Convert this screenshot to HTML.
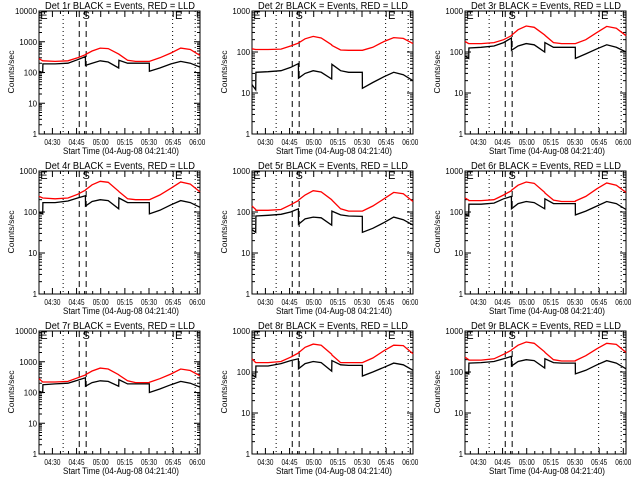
<!DOCTYPE html>
<html><head><meta charset="utf-8"><style>
html,body{margin:0;padding:0;background:#fff;}
svg{display:block;font-family:"Liberation Sans",sans-serif;}
</style></head><body>
<svg id="chart" width="640" height="480" viewBox="0 0 640 480"></svg>
<script>
const times = [0,2.3,2.4,10,18,24,28.8,28.9,33,38,43,49.5,49.6,55,60,68.5,68.6,75,82,88,94,100];
const detectorNames = ["Det 1r","Det 2r","Det 3r","Det 4r","Det 5r","Det 6r","Det 7r","Det 8r","Det 9r"];
const yDecades = [4,3,3,3,3,3,4,3,3];
const red1 = [280,240,240,230,240,300,380,385,500,620,600,400,395,250,230,230,230,300,430,620,560,360];
const black1 = [110,100,190,190,200,260,330,170,200,240,220,140,250,200,200,200,110,140,190,230,200,150];
const red2 = [120,115,115,115,118,140,165,167,210,240,220,150,145,112,110,110,110,130,180,225,215,160];
const black2 = [16,12,32,33,35,42,52,23,30,35,32,22,50,35,32,32,13,18,25,32,28,20];
const red3 = [180,160,160,160,170,200,250,255,350,430,400,260,255,170,160,160,160,200,300,420,380,250];
const black3 = [80,70,125,130,140,170,220,110,140,160,150,100,170,130,130,130,70,90,120,150,130,100];
const red4 = [240,220,220,210,220,270,340,345,460,560,530,320,315,210,200,200,200,260,380,540,480,310];
const black4 = [100,90,170,170,185,220,250,140,180,200,190,120,220,170,170,170,90,110,150,190,170,130];
const red5 = [140,115,110,110,115,150,190,195,260,330,310,200,195,120,105,105,105,140,210,300,280,180];
const black5 = [37,32,80,83,88,100,120,50,68,75,72,48,105,85,80,78,32,40,55,75,65,48];
const red6 = [220,195,190,190,200,260,330,340,450,540,500,300,290,195,180,180,185,240,370,510,450,300];
const black6 = [90,80,155,155,165,210,240,120,160,180,170,120,210,160,160,160,85,105,140,180,160,115];
const red7 = [280,220,220,220,230,300,370,380,500,620,580,380,370,240,210,210,215,280,400,580,520,350];
const black7 = [110,100,180,190,200,250,300,160,210,240,230,160,260,190,190,190,100,130,180,230,200,150];
const red8 = [210,170,170,170,180,230,290,295,400,480,450,270,260,170,170,170,170,220,330,450,440,280];
const black8 = [85,75,140,140,160,190,210,120,160,180,170,105,190,150,145,145,80,100,130,165,150,110];
const red9 = [230,200,195,195,210,270,340,345,450,540,500,310,300,200,185,185,190,250,370,500,470,300];
const black9 = [100,90,165,170,180,210,240,140,180,200,190,125,210,170,165,165,90,110,150,190,165,120];
const redSeries = [red1,red2,red3,red4,red5,red6,red7,red8,red9];
const blackSeries = [black1,black2,black3,black4,black5,black6,black7,black8,black9];
const xTickMinutes = [8.33,23.33,38.33,53.33,68.33,83.33,98.33];
const xTickLabels = ["04:30","04:45","05:00","05:15","05:30","05:45","06:00"];
const dottedLines = [15,83,97];
const dashedLines = [25,29.3];
const flagTimes = [0.8,27,84.5];
const flagLabels = ["E","S","E"];

const NS="http://www.w3.org/2000/svg";
const svg=document.getElementById('chart');
function mk(tag,attrs,parent){const e=document.createElementNS(NS,tag);for(const k in attrs)e.setAttribute(k,attrs[k]);(parent||svg).appendChild(e);return e;}

for(let p=0;p<9;p++){
  const col=p%3,row=Math.floor(p/3);
  const ox=col*213,oy=row*160;
  const L=ox+39,R=ox+200,T=oy+11,B=oy+134;
  const xmax=100;
  const dec=yDecades[p];
  const xs=t=>L+(t/xmax)*(R-L);
  const ys=v=>B-(Math.log10(v)/dec)*(B-T);
  const g=mk('g',{});
  
  
  const title=mk('text',{x:ox+45,y:oy+9,'font-size':10,fill:'#000',textLength:150,lengthAdjust:'spacingAndGlyphs'},g);
  title.textContent=detectorNames[p]+" BLACK = Events, RED = LLD";
  
  
  const frame=mk('rect',{x:L,y:T,width:R-L,height:B-T,fill:'none',stroke:'#000','stroke-width':1},g);
  
  
  for(let d=0;d<=dec;d++){
    const y=ys(Math.pow(10,d));
    mk('line',{x1:L,x2:L+6,y1:y,y2:y,stroke:'#000'},g);
    mk('line',{x1:R-6,x2:R,y1:y,y2:y,stroke:'#000'},g);
    const s=String(Math.pow(10,d));
    const lb=mk('text',{x:L-2,y:y+3,'font-size':8,'text-anchor':'end',fill:'#000',textLength:4.4*s.length,lengthAdjust:'spacingAndGlyphs'},g);
    lb.textContent=s;
    
    
    if(d<dec){for(let m=2;m<10;m++){const ym=ys(m*Math.pow(10,d));
      mk('line',{x1:L,x2:L+3,y1:ym,y2:ym,stroke:'#000'},g);
      mk('line',{x1:R-3,x2:R,y1:ym,y2:ym,stroke:'#000'},g);}}
  }
  const yt=mk('text',{x:0,y:0,'font-size':8,'text-anchor':'middle',fill:'#000',textLength:43,lengthAdjust:'spacingAndGlyphs',transform:`translate(${ox+14},${oy+72}) rotate(-90)`},g);
  yt.textContent="Counts/sec";
  
  
  xTickMinutes.forEach((m,i)=>{
    const x=xs(m);
    mk('line',{x1:x,x2:x,y1:B,y2:B-6,stroke:'#000'},g);
    mk('line',{x1:x,x2:x,y1:T,y2:T+6,stroke:'#000'},g);
    for(let k=1;k<3;k++){const xm=xs(m-5*k); if(xm>L){mk('line',{x1:xm,x2:xm,y1:B,y2:B-3,stroke:'#000'},g);mk('line',{x1:xm,x2:xm,y1:T,y2:T+3,stroke:'#000'},g);}}
    const lb=mk('text',{x:x-8,y:B+11,'font-size':8,fill:'#000',textLength:16,lengthAdjust:'spacingAndGlyphs'},g);
    lb.textContent=xTickLabels[i];
    
    
  });
  const xt=mk('text',{x:ox+63,y:oy+154,'font-size':9,fill:'#000',textLength:116,lengthAdjust:'spacingAndGlyphs'},g);
  xt.textContent="Start Time (04-Aug-08 04:21:40)";
  
  
  dottedLines.forEach(t=>{const l=mk('line',{x1:xs(t),x2:xs(t),y1:T,y2:B,stroke:'#000','stroke-dasharray':'1,3'},g);
    
    });
  dashedLines.forEach(t=>{const l=mk('line',{x1:xs(t),x2:xs(t),y1:T,y2:B,stroke:'#000','stroke-dasharray':'6,4'},g);
    
    });
  flagTimes.forEach((t,i)=>{const f=mk('text',{x:xs(t),y:T+8,'font-size':11,fill:'#000'},g);
    f.textContent=flagLabels[i];
    
    });
  const mkPath=(vals,color,name)=>{
    const d=vals.map((v,i)=>(i?'L':'M')+xs(times[i]).toFixed(1)+','+ys(v).toFixed(1)).join(' ');
    const pth=mk('path',{d:d,fill:'none',stroke:color,'stroke-width':1.3},g);
    
    
  };
  mkPath(redSeries[p],'#ff0000','lld-red-line');
  mkPath(blackSeries[p],'#000000','events-black-line');
}
</script>
</body></html>
